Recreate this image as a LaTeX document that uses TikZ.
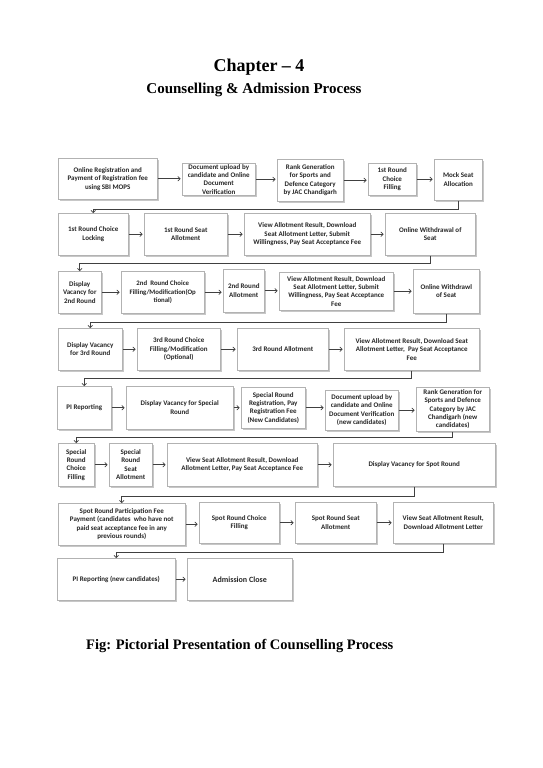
\documentclass[tikz,border=0pt]{standalone}
\usepackage{fontspec}
\setmainfont{Liberation Serif}
\newfontfamily\boxfont{Carlito}
\usetikzlibrary{shadows,arrows.meta,calc}
\newcommand{\mybox}[7][7]{%
  \pgfmathsetmacro{\bw}{#5-#3}\pgfmathsetmacro{\bh}{#6-#4}%
  \node[box, font=\boxfont\bfseries\fontsize{#1}{8.4}\selectfont, anchor=north west, minimum width=\bw pt, minimum height=\bh pt] (#2) at (#3,#4) {#7};}
\begin{document}
\begin{tikzpicture}[x=1pt,y=-1pt,
  box/.style={draw=black!30, line width=0.5pt, fill=white, align=center, inner sep=1pt,
    text=black!85,
    drop shadow={shadow xshift=1.3pt, shadow yshift=-1.3pt, fill=black!40, opacity=0.55}},
  arr/.style={draw=black!75, line width=0.7pt, -{To[length=3pt,width=5pt]}, shorten >=1.5pt},
  conn/.style={draw=black!75, line width=0.7pt, -{To[length=3pt,width=5pt]}}]
\useasboundingbox (0,0) rectangle (542,768);
\node[font=\bfseries\fontsize{18}{20}\selectfont, anchor=base] (t1) at (259,71) {Chapter – 4};
\node[font=\bfseries\fontsize{15}{17}\selectfont, anchor=base] (t2) at (254,93) {Counselling \& Admission Process};
\node[font=\bfseries\fontsize{14.5}{16}\selectfont, anchor=base west, inner sep=0pt] (cap) at (86,649) {Fig: Pictorial Presentation of Counselling Process};
% row 1
\mybox{A}{58}{158}{157}{199}{Online Registration and\\Payment of Registration fee\\using SBI MOPS}
\mybox{B}{182}{163}{255}{195}{Document upload by\\candidate and Online\\Document\\Verification}
\mybox{C}{277}{159}{343}{201}{Rank Generation\\for Sports and\\Defence Category\\by JAC Chandigarh}
\mybox{D}{368}{163}{416}{195}{1st Round\\Choice\\Filling}
\mybox{E}{434}{159}{482}{200}{Mock Seat\\Allocation}
% row 2
\mybox{F}{58}{213}{128}{255}{1st Round Choice\\Locking}
\mybox{G}{144}{213}{227}{255}{1st Round Seat\\Allotment}
\mybox{H}{244}{213}{370}{255}{View Allotment Result, Download\\Seat Allotment Letter, Submit\\Willingness, Pay Seat Acceptance Fee}
\mybox{I}{385}{213}{475}{255}{Online Withdrawal of\\Seat}
% row 3
\mybox{J}{58}{271}{101}{313}{Display\\Vacancy for\\2nd Round}
\mybox[6.8]{K}{121}{271}{204}{313}{2nd~ Round Choice\\Filling/Modification(Op\\tional)}
\mybox{L}{223}{269}{264}{312}{2nd Round\\Allotment}
\mybox{M}{279}{272}{393}{310}{View Allotment Result, Download\\Seat Allotment Letter, Submit\\Willingness, Pay Seat Acceptance\\Fee}
\mybox{N}{413}{269}{479}{313}{Online Withdrawl\\of Seat}
% row 4
\mybox{O}{58}{328}{122}{370}{Display Vacancy\\for 3rd Round}
\mybox{P}{137}{328}{220}{370}{3rd Round Choice\\Filling/Modification\\(Optional)}
\mybox{Q}{237}{328}{328}{370}{3rd Round Allotment}
\mybox{R}{344}{328}{479}{370}{View Allotment Result, Download Seat\\Allotment Letter,~ Pay Seat Acceptance\\Fee}
% row 5
\mybox{S}{57}{386}{111}{429}{PI Reporting}
\mybox{T}{126}{386}{233}{429}{Display Vacancy for Special\\Round}
\mybox{U}{241}{387}{305}{428}{Special Round\\Registration, Pay\\Registration Fee\\(New Candidates)}
\mybox{V}{325}{390}{398}{430}{Document upload by\\candidate and Online\\Document Verification\\(new candidates)}
\mybox{W}{416}{387}{489}{431}{Rank Generation for\\Sports and Defence\\Category by JAC\\Chandigarh (new\\candidates)}
% row 6
\mybox{X}{58}{443}{94}{486}{Special\\Round\\Choice\\Filling}
\mybox{Y}{109}{443}{152}{486}{Special\\Round\\Seat\\Allotment}
\mybox{Z}{167}{443}{317}{486}{View Seat Allotment Result, Download\\Allotment Letter, Pay Seat Acceptance Fee}
\mybox{AA}{333}{443}{495}{486}{Display Vacancy for Spot Round}
% row 7
\mybox{AB}{58}{503}{185}{545}{Spot Round Participation Fee\\Payment (candidates~ who have not\\paid seat acceptance fee in any\\previous rounds)}
\mybox{AC}{199}{502}{279}{543}{Spot Round Choice\\Filling}
\mybox{AD}{295}{502}{376}{543}{Spot Round Seat\\Allotment}
\mybox{AE}{393}{502}{493}{543}{View Seat Allotment Result,\\Download Allotment Letter}
% row 8
\mybox{AF}{57}{558}{175}{600}{PI Reporting (new candidates)}
\mybox[8]{AG}{187}{558}{292}{600}{Admission Close}
% horizontal arrows
\foreach \a/\b in {A/B,B/C,C/D,D/E,F/G,G/H,H/I,J/K,K/L,L/M,M/N,O/P,P/Q,Q/R,S/T,T/U,U/V,V/W,X/Y,Y/Z,Z/AA,AB/AC,AC/AD,AD/AE,AF/AG}
  \draw[arr] (\a.east) -- (\a.east -| \b.west);
% row connectors
\draw[conn] (E.south) -- (E.south |- 0,209) -| (F.north);
\draw[conn] (I.south) -- (I.south |- 0,263) -| (J.north);
\draw[conn] (N.south) -- (N.south |- 0,322) -| (O.north);
\draw[conn] (R.south) -- (R.south |- 0,378) -| (S.north);
\draw[conn] (W.south) -- (W.south |- 0,437) -| (X.north);
\draw[conn] (AA.south) -- (AA.south |- 0,496) -| (AB.north);
\draw[conn] (AE.south) -- (AE.south |- 0,552) -| (AF.north);
\end{tikzpicture}
\end{document}
